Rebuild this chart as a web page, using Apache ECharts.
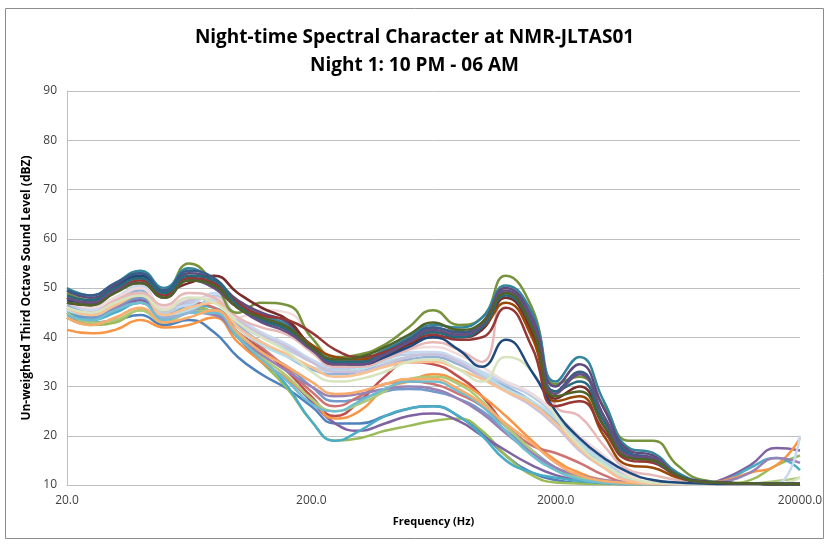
<!DOCTYPE html>
<html>
<head>
<meta charset="utf-8">
<script src="https://cdn.jsdelivr.net/npm/echarts@6/dist/echarts.min.js"></script>
<style>
  html, body { margin: 0; padding: 0; background: #fff; }
  #chart { width: 829px; height: 544px; }
</style>
</head>
<body>
<div id="chart"></div>
<script>
  // third octave band centre frequencies (Hz)
  const freqs = [20, 25, 31.5, 40, 50, 63, 80, 100, 125, 160, 200, 250, 315, 400, 500, 630,
    800, 1000, 1250, 1600, 2000, 2500, 3150, 4000, 5000, 6300, 8000, 10000, 12500, 16000, 20000]
  const xTicks = [20, 200, 2000, 20000]

  // quieter intervals
  const p01 = [44, 43, 43.5, 44.5, 42.5, 43.5, 41, 36, 32.5, 29.5, 26, 22.5, 22.5, 24, 25.5, 26, 24, 20.5, 16, 12.5, 11, 10.4, 10.3, 10.2, 10.2, 10.2, 10.2, 10.2, 10.2, 10.2, 10.2]
  const p02 = [46, 45, 46, 48, 45, 46, 45, 41, 37.5, 33, 28, 24, 27, 32, 35, 34.5, 32, 28, 22, 17, 13.5, 12, 10.8, 10.4, 10.3, 10.2, 10.2, 10.2, 10.2, 10.2, 10.2]
  const p03 = [44, 42.5, 43, 45.5, 43, 46, 45, 40, 35, 29.5, 23, 19, 19.5, 21, 22, 23, 23.5, 21, 16, 12, 10.5, 10.3, 10.2, 10.2, 10.2, 10.2, 10.2, 10.3, 11, 14, 16]
  const p04 = [45, 44, 45.5, 47.5, 44.5, 45.5, 45, 40, 35, 31.5, 27, 22.5, 21, 22.5, 24, 24.5, 23, 20, 17, 14, 12, 11, 10.5, 10.3, 10.2, 10.2, 10.3, 11.5, 14, 17.5, 17]
  const p05 = [45, 43.5, 45, 47, 44, 46.5, 46, 41, 36, 30, 23, 19, 21, 24, 25.5, 26, 24, 20, 15, 12.5, 11.5, 10.8, 10.4, 10.2, 10.2, 10.2, 10.3, 11, 13.5, 15.5, 13]
  const p06 = [41.5, 40.8, 41.5, 43.5, 42, 42.5, 44, 39, 35, 31.5, 27.5, 23.5, 25, 29.5, 31, 32.5, 31, 28, 24, 19, 15, 12.5, 11, 10.5, 10.3, 10.2, 10.3, 11, 12.5, 14, 19.5]
  const p07 = [45.5, 44, 46, 48, 44, 45.5, 45, 41, 37, 34, 30, 27, 27.5, 29, 29.5, 29, 27.5, 25, 21, 17, 13.5, 11.5, 10.5, 10.3, 10.2, 10.2, 10.2, 10.2, 10.2, 10.2, 10.2]
  const p08 = [46, 44.5, 46.5, 48.5, 45.5, 47, 46, 42, 38, 33.5, 29, 26, 28, 30.5, 31, 30.5, 28.5, 26, 22, 18, 16.5, 14.5, 12, 10.5, 10.3, 10.2, 10.2, 10.2, 10.2, 10.2, 10.2]
  const p09 = [45, 43, 43.5, 45.5, 43, 45, 45.5, 40.5, 36, 32, 27.5, 25, 26.5, 29, 31.5, 32, 30.5, 27, 22, 17, 13, 11.5, 10.5, 10.3, 10.2, 10.2, 10.2, 10.2, 10.3, 10.8, 11.5]
  const p10 = [46, 44.5, 46, 47, 44, 45, 44.5, 40, 36.5, 33, 30, 28, 28.5, 29.5, 30, 29.5, 27.5, 24.5, 20.5, 16.5, 13.5, 12, 11, 10.5, 10.3, 10.2, 10.3, 10.8, 12.5, 15.5, 14.5]
  const p11 = [44.5, 43.5, 45.5, 47, 43.5, 45, 45, 40, 35.5, 31, 26.5, 25, 27, 29.5, 31, 31, 29, 26, 21, 16, 13, 11.2, 10.5, 10.3, 10.2, 10.2, 10.2, 10.2, 10.2, 10.2, 10.2]
  const p12 = [44, 42.5, 44, 46, 43, 44, 45.5, 41, 37, 34, 31, 28.5, 29, 30.5, 31.5, 31.5, 29.5, 26.5, 22.5, 18.5, 14.5, 12, 10.8, 10.4, 10.2, 10.2, 10.2, 10.2, 10.2, 10.2, 10.2]
  // middle band
  const p13 = [46, 45, 47.5, 50, 45, 47, 48.5, 43, 40, 37.5, 35, 33.5, 34, 35.5, 36.5, 36.5, 35, 32.5, 30.5, 28, 24, 19, 15, 11.5, 10.4, 10.2, 10.2, 10.2, 10.2, 10.2, 10.2]
  const p14 = [47, 45.5, 48, 50.5, 46, 46.5, 49, 44, 41, 38.5, 35.5, 34, 34.5, 36, 37, 37, 35.5, 33, 31, 28.5, 24.5, 19.5, 15.5, 12, 10.5, 10.3, 10.2, 10.2, 10.2, 10.3, 20]
  const p15 = [46.5, 45, 47, 49.5, 44, 45, 48, 42.5, 39, 36, 33.5, 32.5, 33, 34.5, 35.5, 36, 34.5, 32, 30, 27, 23, 18, 14, 11, 10.3, 10.2, 10.2, 10.2, 10.2, 10.2, 10.2]
  const p16 = [45.5, 44.5, 46.5, 49, 44.5, 45.5, 47.5, 42, 38.5, 36, 34, 33, 33.5, 35, 36, 36.5, 35, 32.5, 29.5, 27, 23.5, 18.5, 14.5, 11, 10.3, 10.2, 10.2, 10.2, 10.2, 10.2, 10.2]
  const p17 = [47, 46, 48, 50, 45.5, 47.5, 48, 43.5, 40.5, 38, 35, 33, 33, 34.5, 36, 36.5, 35, 32, 29, 26, 22, 17, 13.5, 10.8, 10.3, 10.2, 10.2, 10.2, 10.2, 10.2, 10.2]
  const p18 = [46, 44.5, 46.5, 48.5, 44.5, 46, 47, 42, 39, 36.5, 34, 32, 32.5, 34, 35, 35, 33.5, 31.5, 29, 26.5, 22.5, 17.5, 13.5, 10.8, 10.3, 10.2, 10.2, 10.2, 10.2, 10.2, 10.2]
  const p19 = [47.5, 46, 48, 50, 46, 48, 48, 44, 45.5, 45, 40, 36, 35.5, 36.5, 37.5, 38, 36.5, 34, 31, 28.5, 24.5, 20, 16, 12, 10.5, 10.3, 10.2, 10.2, 10.2, 10.2, 10.2]
  const p20 = [46, 45, 47.5, 49, 46.5, 49, 48, 44, 42, 40.5, 37, 34, 34, 35.5, 37.5, 39, 37.5, 35, 49, 41, 26, 24, 18, 13, 12, 11, 10.5, 10.3, 10.2, 10.2, 10.2]
  const p21 = [46, 45, 47, 48.5, 45.5, 48, 47, 43, 40, 37, 33, 31, 31.5, 33, 35, 35.5, 33.5, 31, 36, 33, 24, 18, 14, 11.5, 10.5, 10.3, 10.2, 10.2, 10.2, 10.2, 11.5]
  // louder intervals
  const p22 = [49, 47.5, 50.5, 52.5, 49.5, 55, 51, 45, 47, 46.5, 40, 36, 36.5, 38.5, 42, 45.5, 42.5, 44, 52.5, 46, 30.5, 32, 26, 19, 19, 14, 11, 10.5, 10.3, 10.2, 10.2]
  const p23 = [50, 48.5, 51, 53.5, 50, 54, 51, 47, 44.5, 42.5, 38.5, 35.5, 35.5, 37.5, 40, 42.5, 42, 44, 50.5, 45, 31, 36, 27, 17.5, 16.5, 12.5, 10.8, 10.5, 10.3, 10.2, 10.2]
  const p24 = [49.5, 48, 50.5, 53, 49, 53, 51.5, 47.5, 45, 43, 38, 35, 35, 37, 39.5, 42, 41, 43, 50, 44, 30, 34.5, 25.5, 17, 16, 12, 10.7, 10.4, 10.3, 10.2, 10.2]
  const p25 = [47, 46.5, 50, 52, 49.5, 51, 52.5, 49, 46, 43.5, 38, 34.5, 34.5, 36, 38.5, 40, 40, 41.5, 48, 41, 27.5, 30, 22, 15.5, 15, 12, 10.7, 10.4, 10.3, 10.2, 10.2]
  const p26 = [48, 47, 49.5, 51, 48, 52, 50, 46, 44, 42, 38.5, 36, 35.5, 36.5, 39, 41, 40.5, 42, 47, 40, 27, 28, 20, 14, 13.5, 11.5, 10.6, 10.4, 10.3, 10.2, 10.2]
  const p27 = [47.5, 47, 50, 52.5, 49, 52, 50.5, 46, 43.5, 41.5, 38, 35, 34.5, 36, 38, 40, 37.5, 34, 39.5, 33, 25, 19.5, 15.5, 12.5, 11, 10.5, 10.3, 10.2, 10.2, 10.2, 10.2]
  const p28 = [49.5, 48.5, 51, 53, 49.5, 53.5, 52, 47, 44, 42, 38, 35, 35, 37, 39.5, 42, 41, 42.5, 49, 43, 29, 33, 24, 16.5, 15.5, 12, 10.6, 10.4, 10.3, 10.2, 10.2]
  const p29 = [48, 47, 49.5, 51.5, 48.5, 52, 51, 47, 44.5, 43.5, 41, 37.5, 36, 37, 39, 40.5, 39.5, 40, 46, 38, 26, 27, 21, 15, 14.5, 11.8, 10.6, 10.4, 10.3, 10.2, 10.2]
  const p30 = [48.5, 47.5, 50, 52, 49, 52.5, 51.5, 46.5, 43.5, 41.5, 37.5, 35, 35, 36.5, 39, 41, 40, 42, 48.5, 42, 29, 31, 23, 16, 15, 12, 10.6, 10.4, 10.3, 10.2, 10.2]
  const p31 = [48, 47, 49.5, 51, 48, 51.5, 50, 46, 43, 41, 37.5, 34.5, 34.5, 36.5, 39, 41.5, 40.5, 42.5, 49.5, 43.5, 28.5, 32.5, 24, 16, 15.5, 12, 10.6, 10.4, 10.3, 10.2, 10.2]
  const p32 = [47, 46.5, 49, 51, 48, 51.5, 50.5, 46, 44, 42, 38, 35.5, 36, 38, 40.5, 43, 41.5, 43, 49, 42, 28, 29, 22, 15.5, 15, 12, 10.6, 10.4, 10.3, 10.2, 10.2]

  const levels = [p01, p02, p03, p04, p05, p06, p07, p08, p09, p10, p11, p12, p13, p14, p15, p16,
    p17, p18, p19, p20, p21, p22, p23, p24, p25, p26, p27, p28, p29, p30, p31, p32]
  const lineColors = ['#4F81BD', '#C0504D', '#9BBB59', '#8064A2', '#4BACC6', '#F79646',
    '#729ACA', '#CD7371', '#AFC97A', '#9983B5', '#6FBDD1', '#F9AB6B',
    '#B9CDE5', '#C6D9F1', '#95B3D7', '#B7DEE8', '#CCC1DA', '#FAC090', '#F2DCDB',
    '#E6B9B8', '#D7E4BD',
    '#77933C', '#31859C', '#604A7B', '#772C2A', '#984807', '#1F497D', '#385D8A',
    '#953735', '#276A7C', '#664F83', '#4F6228']

  const font = '"Open Sans", "Noto Sans", sans-serif'
  const chart = echarts.init(document.getElementById('chart'))

  const option = {
    animation: false,
    backgroundColor: '#fff',
    title: {
      text: 'Night-time Spectral Character at NMR-JLTAS01\nNight 1: 10 PM - 06 AM',
      left: 'center',
      top: 19,
      textStyle: {
        fontFamily: font,
        fontSize: 19,
        fontWeight: 'bold',
        color: '#000',
        lineHeight: 28
      }
    },
    graphic: [
      {
        type: 'rect',
        shape: { x: 5.5, y: 8.5, width: 818, height: 530 },
        style: { fill: null, stroke: '#8c8c8c', lineWidth: 1 }
      }
    ],
    grid: { left: 67, right: 29, top: 91, bottom: 59 },
    xAxis: {
      type: 'log',
      logBase: 10,
      min: 20,
      max: 20000,
      name: 'Frequency (Hz)',
      nameLocation: 'middle',
      nameGap: 31,
      nameTextStyle: { fontFamily: font, fontSize: 11, fontWeight: 'bold', color: '#000' },
      axisLine: { show: true, lineStyle: { color: '#BFBFBF' } },
      axisTick: { show: false },
      splitLine: { show: false },
      minorSplitLine: { show: false },
      axisLabel: {
        customValues: xTicks,
        fontFamily: font,
        fontSize: 12,
        color: '#404040',
        margin: 10,
        formatter: v => Number(v).toFixed(1)
      }
    },
    yAxis: {
      type: 'value',
      min: 10,
      max: 90,
      interval: 10,
      name: 'Un-weighted Third Octave Sound Level (dBZ)',
      nameLocation: 'middle',
      nameGap: 34,
      nameRotate: 90,
      nameTextStyle: { fontFamily: font, fontSize: 12, fontWeight: 'bold', color: '#000' },
      axisLine: { show: true, lineStyle: { color: '#BFBFBF' } },
      axisTick: { show: false },
      splitLine: { lineStyle: { color: '#BFBFBF' } },
      axisLabel: { fontFamily: font, fontSize: 12, color: '#404040', margin: 10 }
    },
    series: levels.map((vals, i) => ({
      name: 'Interval ' + (i + 1),
      type: 'line',
      smooth: 0.5,
      symbol: 'none',
      lineStyle: { width: 2.5, color: lineColors[i] },
      data: freqs.map((f, j) => [f, vals[j]])
    }))
  }

  chart.setOption(option)
</script>
</body>
</html>
